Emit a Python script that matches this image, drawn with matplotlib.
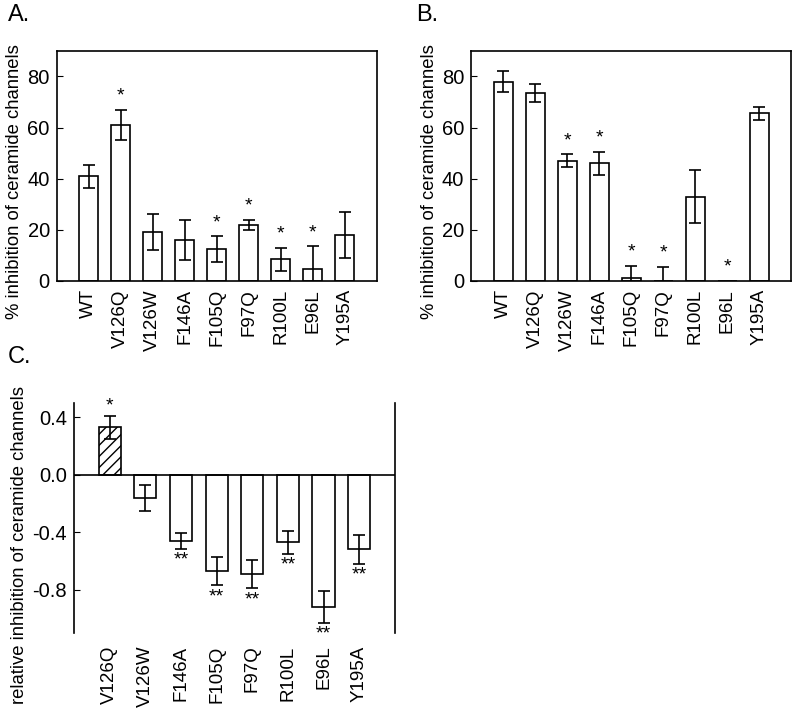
import matplotlib
matplotlib.use("Agg")
import matplotlib.pyplot as plt
import numpy as np

plt.rcParams["font.family"] = ["Liberation Sans", "DejaVu Sans"]

# panel A / B data
mutants_ab = ["WT", "V126Q", "V126W", "F146A", "F105Q", "F97Q", "R100L", "E96L", "Y195A"]
a_vals = [41, 61, 19, 16, 12.5, 22, 8.5, 4.5, 18]
a_errs = [4.5, 6, 7, 8, 5, 2, 4.5, 9, 9]
a_stars = ["", "*", "", "", "*", "*", "*", "*", ""]

b_vals = [78, 73.5, 47, 46, 1, 0, 33, 0, 65.5]
b_errs = [4, 3.5, 2.5, 4.5, 5, 5.5, 10.5, 0, 2.5]
b_stars = ["", "", "*", "*", "*", "*", "", "*", ""]

# panel C data
mutants_c = ["V126Q", "V126W", "F146A", "F105Q", "F97Q", "R100L", "E96L", "Y195A"]
c_vals = [0.33, -0.16, -0.46, -0.67, -0.69, -0.47, -0.92, -0.52]
c_errs = [0.08, 0.09, 0.055, 0.1, 0.1, 0.08, 0.11, 0.1]
c_stars = ["*", "", "**", "**", "**", "**", "**", "**"]

ylab = "% inhibition of ceramide channels"

fig = plt.figure(figsize=(8, 7.11), dpi=100)


def pct_panel(ax, vals, errs, stars):
    x = np.arange(len(mutants_ab))
    ax.bar(x, vals, width=0.6, color="white", edgecolor="black", linewidth=1.2)
    e = [v_e if v_e > 0 else np.nan for v_e in errs]
    ax.errorbar(x, vals, yerr=e, fmt="none", ecolor="black", elinewidth=1.2,
                capsize=4, capthick=1.2)
    for xi, v, er, s in zip(x, vals, errs, stars):
        if s:
            ax.text(xi, v + er + 2, s, ha="center", va="bottom", fontsize=14)
    ax.set_xlim(-1, len(mutants_ab))
    ax.set_ylim(0, 90)
    ax.set_yticks([0, 20, 40, 60, 80])
    ax.set_xticks(x)
    ax.set_xticklabels(mutants_ab, rotation=90)
    ax.tick_params(axis="y", direction="in", length=4, labelsize=14.5, pad=5)
    ax.tick_params(axis="x", length=0, labelsize=13.5, pad=6)
    ax.set_ylabel(ylab, fontsize=13.3, labelpad=3, y=0.43)
    for sp in ax.spines.values():
        sp.set_linewidth(1.2)


axA = fig.add_axes([0.071, 0.605, 0.40, 0.3235])
pct_panel(axA, a_vals, a_errs, a_stars)
axB = fig.add_axes([0.589, 0.605, 0.40, 0.3235])
pct_panel(axB, b_vals, b_errs, b_stars)

axC = fig.add_axes([0.0925, 0.1097, 0.401, 0.324])
xc = np.arange(len(mutants_c))
bars = axC.bar(xc, c_vals, width=0.62, color="white", edgecolor="black", linewidth=1.2)
bars[0].set_hatch("///")
axC.errorbar(xc, c_vals, yerr=c_errs, fmt="none", ecolor="black", elinewidth=1.2,
             capsize=4, capthick=1.2)
for xi, v, er, s in zip(xc, c_vals, c_errs, c_stars):
    if v > 0:
        axC.text(xi, v + er + 0.01, s, ha="center", va="bottom", fontsize=14)
    else:
        axC.text(xi, v - er - 0.02, s, ha="center", va="top", fontsize=14)
axC.axhline(0, color="black", linewidth=1.2)
axC.set_xlim(-1, len(mutants_c))
axC.set_ylim(-1.1, 0.5)
axC.set_yticks([0.4, 0.0, -0.4, -0.8])
axC.set_yticklabels(["0.4", "0.0", "-0.4", "-0.8"])
axC.set_xticks(xc)
axC.set_xticklabels(mutants_c, rotation=90)
axC.tick_params(axis="y", direction="in", length=4, labelsize=14.5, pad=5)
axC.tick_params(axis="x", length=0, labelsize=13.5, pad=9)
axC.spines["top"].set_visible(False)
axC.spines["bottom"].set_visible(False)
axC.spines["left"].set_linewidth(1.2)
axC.spines["right"].set_linewidth(1.2)
axC.set_ylabel("relative inhibition of ceramide channels", fontsize=13.3, labelpad=3, y=0.38)

fig.text(0.01, 0.995, "A.", fontsize=17, va="top")
fig.text(0.52, 0.995, "B.", fontsize=17, va="top")
fig.text(0.01, 0.513, "C.", fontsize=17, va="top")

fig.savefig("out.png", dpi=100)
